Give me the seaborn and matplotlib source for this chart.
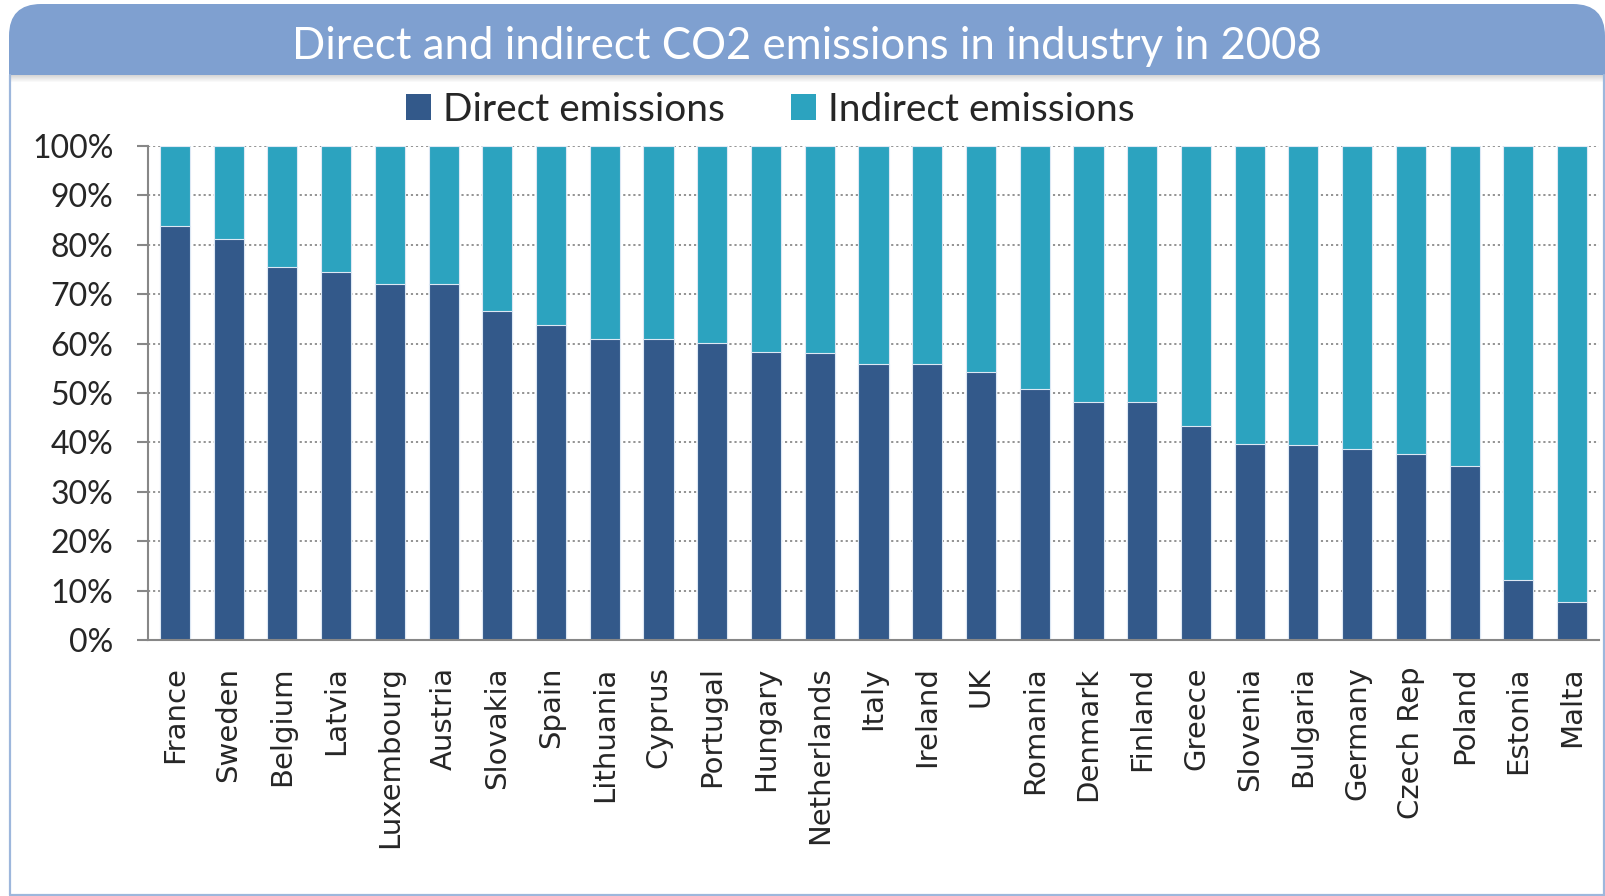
import matplotlib
matplotlib.use("Agg")
import matplotlib.pyplot as plt
from matplotlib.patches import FancyBboxPatch, Rectangle, Patch
from matplotlib.lines import Line2D
import seaborn as sns

# Share of direct vs indirect CO2 emissions in industry, 2008 (%)
countries = ["France", "Sweden", "Belgium", "Latvia", "Luxembourg", "Austria",
             "Slovakia", "Spain", "Lithuania", "Cyprus", "Portugal", "Hungary",
             "Netherlands", "Italy", "Ireland", "UK", "Romania", "Denmark",
             "Finland", "Greece", "Slovenia", "Bulgaria", "Germany", "Czech Rep",
             "Poland", "Estonia", "Malta"]
direct = [83.9, 81.2, 75.6, 74.4, 72.1, 72.0, 66.7, 63.8, 60.9, 60.9, 60.2, 58.2,
          58.0, 55.9, 55.9, 54.2, 50.9, 48.2, 48.2, 43.3, 39.6, 39.5, 38.7, 37.7,
          35.3, 12.1, 7.6]
indirect = [16.1, 18.8, 24.4, 25.6, 27.9, 28.0, 33.3, 36.2, 39.1, 39.1, 39.8, 41.8,
            42.0, 44.1, 44.1, 45.8, 49.1, 51.8, 51.8, 56.7, 60.4, 60.5, 61.3, 62.3,
            64.7, 87.9, 92.4]
y_ticks = [0, 10, 20, 30, 40, 50, 60, 70, 80, 90, 100]
series_names = ["Direct emissions", "Indirect emissions"]
title = "Direct and indirect CO2 emissions in industry in 2008"

DIRECT_C = "#33598A"
INDIRECT_C = "#2CA3BF"
HEADER_C = "#7FA0D0"
BORDER_C = "#9DB7DC"
AXIS_C = "#878787"

sns.set_style("white")
plt.rcParams["font.family"] = ["Lato", "DejaVu Sans"]

W, H = 1606, 896
fig = plt.figure(figsize=(W / 100, H / 100), dpi=100)
fig.patch.set_facecolor("white")
px = fig.dpi_scale_trans  # inch units; 1 inch = 100 px


def P(v):
    return v / 100.0


# Header band with rounded top corners
hdr_top, hdr_bot = H - 4, H - 75
band = FancyBboxPatch((P(9), P(hdr_bot - 40)), P(1605 - 9), P(hdr_top - hdr_bot + 40),
                      boxstyle="round,pad=0,rounding_size=0.32",
                      transform=px, facecolor=HEADER_C, edgecolor="none", zorder=1)
fig.add_artist(band)
fig.add_artist(Rectangle((P(0), P(0)), P(W), P(hdr_bot), transform=px,
                         facecolor="white", edgecolor="none", zorder=2))
# soft shadow under the header
for k in range(7):
    fig.add_artist(Rectangle((P(10), P(hdr_bot - k - 1)), P(1594), P(1), transform=px,
                             facecolor="#000000", alpha=0.16 * (1 - k / 7),
                             edgecolor="none", zorder=3))
# panel frame
for xs, ys in [((10, 10), (hdr_bot, 1)), ((10, 1604), (1, 1)), ((1604, 1604), (1, hdr_bot))]:
    fig.add_artist(Line2D([P(x) for x in xs], [P(y) for y in ys], transform=px,
                          color=BORDER_C, lw=1.6, zorder=3))

fig.text(P(807), P(H - 46), title, transform=px, ha="center", va="center",
         color="white", fontsize=31.5, family=["Lato", "DejaVu Sans"], zorder=5)

# Plot area
ax_l, ax_r, ax_t, ax_b = 148, 1599, 146, 640
ax = fig.add_axes([ax_l / W, (H - ax_b) / H, (ax_r - ax_l) / W, (ax_b - ax_t) / H])
ax.set_zorder(4)

totals = [d + i for d, i in zip(direct, indirect)]
bar_kw = dict(width=0.56, saturation=1, edgecolor="#DDE8F4", linewidth=0.8, ax=ax)
sns.barplot(x=countries, y=totals, color=INDIRECT_C, **bar_kw)
sns.barplot(x=countries, y=direct, color=DIRECT_C, **bar_kw)

ax.set_xlim(-0.5, len(countries) - 0.5)
ax.set_ylim(0, 100)
ax.set_yticks(y_ticks)
ax.set_yticklabels([f"{v}%" for v in y_ticks], fontsize=23, family=["Lato", "DejaVu Sans"])
ax.set_xticks(range(len(countries)))
ax.set_xticklabels(countries, rotation=90, fontsize=21, family=["DejaVu Sans"])
ax.set_xticks([i - 0.5 for i in range(len(countries) + 1)], minor=True)
ax.tick_params(axis="x", which="major", length=0, pad=19)
ax.tick_params(axis="x", which="minor", length=8.6, width=1.5, color=AXIS_C, direction="out")
ax.tick_params(axis="y", which="major", length=8, width=1.5, color=AXIS_C, direction="out",
               pad=17, left=True)
ax.set_xlabel("")
ax.set_ylabel("")

ax.yaxis.grid(True, linestyle=(0, (1.2, 1.6)), color="#8A8A8A", lw=1.3)
ax.xaxis.grid(False)
ax.set_axisbelow(True)
for s in ["top", "right"]:
    ax.spines[s].set_visible(False)
for s in ["left", "bottom"]:
    ax.spines[s].set_color(AXIS_C)
    ax.spines[s].set_linewidth(1.5)

handles = [Patch(facecolor=DIRECT_C, edgecolor="none", label=series_names[0]),
           Patch(facecolor=INDIRECT_C, edgecolor="none", label=series_names[1])]
leg = fig.legend(handles=handles, loc="center", bbox_to_anchor=(770 / W, 1 - 110 / H),
                 ncol=2, frameon=False, handlelength=0.65, handleheight=0.65,
                 handletextpad=0.3, columnspacing=1.7,
                 prop={"family": ["Lato", "DejaVu Sans"], "size": 28})
leg.set_zorder(6)

fig.savefig("out.png", dpi=100, facecolor="white")
